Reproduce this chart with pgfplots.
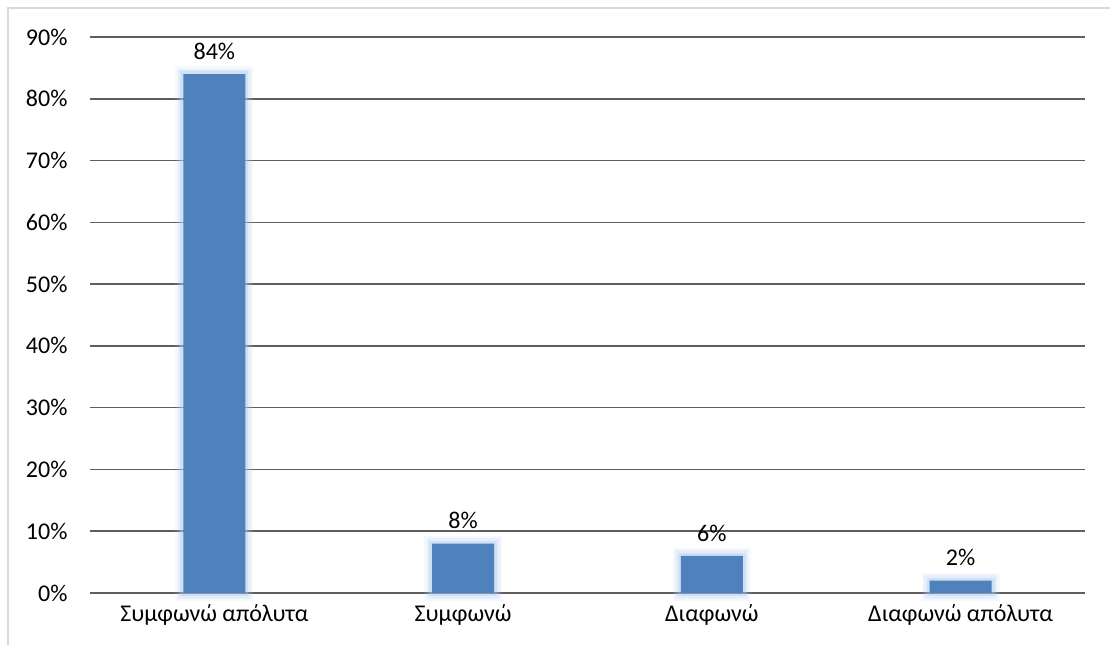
\documentclass[border=0pt]{standalone}
\usepackage{pgfplots}
\pgfplotsset{compat=1.18}
\usepackage{fontspec}
\setmainfont{Carlito}

\definecolor{barblue}{HTML}{4F81BD}
\definecolor{glowblue}{HTML}{A9C6EC}
\definecolor{gridgray}{HTML}{5E5E5E}
\definecolor{framegray}{HTML}{D9D9D9}

\pgfplotstableread{
x  share
0  84
1  8
2  6
3  2
}\responses

\begin{document}
\begin{tikzpicture}
\useasboundingbox (-90pt,-52pt) rectangle (1020pt,593pt);
% chart frame
\draw[framegray, line width=1.5pt] (-82pt,-52pt) -- (-82pt,585pt) -- (1020pt,585pt);
\begin{axis}[
  at={(0pt,0pt)}, anchor=south west,
  scale only axis,
  width=995pt, height=556pt,
  xmin=-0.5, xmax=3.5,
  ymin=0, ymax=90,
  ytick={0,10,...,90},
  xtick=data,
  xticklabels={Συμφωνώ απόλυτα, Συμφωνώ, Διαφωνώ, Διαφωνώ απόλυτα},
  yticklabel={\pgfmathprintnumber{\tick}\%},
  /pgf/number format/assume math mode=true,
  /pgf/number format/fixed, /pgf/number format/precision=0,
  axis line style={draw=none},
  major tick length=0pt,
  ymajorgrids,
  grid style={gridgray, line width=1.6pt},
  ticklabel style={font=\fontsize{24}{28}\selectfont, text=black},
  yticklabel style={xshift=-19pt},
  xticklabel style={yshift=-8pt},
  clip=false,
  ybar, bar width=62pt,
]
% soft glow round the bars
\addplot[draw=glowblue, fill=none, line width=16pt, opacity=0.12, forget plot] table[x=x, y=share] {\responses};
\addplot[draw=glowblue, fill=none, line width=11pt, opacity=0.2, forget plot] table[x=x, y=share] {\responses};
\addplot[draw=glowblue, fill=none, line width=6pt, opacity=0.35, forget plot] table[x=x, y=share] {\responses};
% the bars with their value labels
\addplot[draw=none, fill=barblue,
  nodes near coords={\pgfmathprintnumber{\pgfplotspointmeta}\%},
  every node near coord/.append style={font=\fontsize{24}{28}\selectfont, text=black, yshift=11pt},
] table[x=x, y=share] {\responses};
\end{axis}
\end{tikzpicture}
\end{document}
